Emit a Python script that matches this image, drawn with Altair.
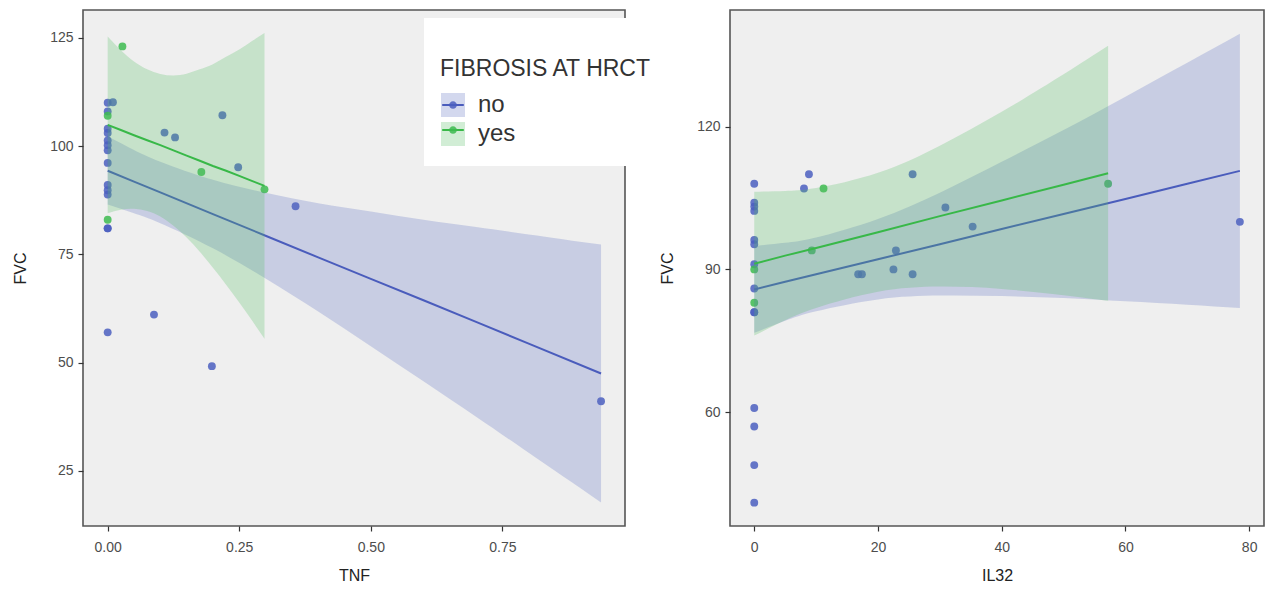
import altair as alt
import pandas as pd

# ---------------- data ----------------
LEGEND_TITLE = ["", "FIBROSIS AT HRCT"]
BLANK_TITLE = ["", " "]

# Left panel: TNF vs FVC, points
TNF_NO = [0, 0, 0, 0, 0, 0, 0, 0, 0, 0, 0, 0, 0, 0,
          0.01, 0.088, 0.108, 0.128, 0.198, 0.218, 0.248, 0.357, 0.9375]
FVC_TNF_NO = [110, 108, 104, 103, 101.3, 100.2, 99, 96.1, 91, 89.8, 88.8, 81, 81, 57,
              110.1, 61.1, 103.1, 102, 49.2, 107.1, 95.1, 86.1, 41.1]
TNF_YES = [0.028, 0, 0.178, 0.298, 0]
FVC_TNF_YES = [123, 107, 94, 90, 83]

# Left panel: fitted line and 95% band read at several TNF values
FIT_TNF_NO_X = [0, 0.05, 0.1, 0.2, 0.3, 0.4, 0.5, 0.6, 0.7, 0.8, 0.9375]
FIT_TNF_NO_Y = [94.3, 91.8, 89.3, 84.3, 79.3, 74.3, 69.35, 64.4, 59.4, 54.4, 47.5]
FIT_TNF_NO_LO = [86.5, 84.5, 82.2, 76.4, 69.4, 61.8, 53.8, 45.7, 37.5, 29.2, 17.75]
FIT_TNF_NO_HI = [102.2, 99.1, 96.4, 92.2, 89.2, 86.8, 84.9, 83.0, 81.3, 79.6, 77.25]

FIT_TNF_YES_X = [0, 0.025, 0.05, 0.075, 0.1, 0.125, 0.15, 0.175, 0.2, 0.225, 0.25, 0.275, 0.298]
FIT_TNF_YES_Y = [104.9, 103.7, 102.5, 101.35, 100.2, 99.0, 97.8, 96.6, 95.4, 94.3, 93.1, 91.9, 90.8]
FIT_TNF_YES_LO = [84.5, 85.3, 85.5, 85.0, 83.75, 81.6, 78.9, 75.6, 71.9, 68.0, 63.9, 59.6, 55.5]
FIT_TNF_YES_HI = [125.3, 122.1, 119.5, 117.7, 116.65, 116.3, 116.7, 117.7, 118.9, 120.6, 122.3, 124.3, 126.1]

# Right panel: IL32 vs FVC, points
IL32_NO = [0, 0, 0, 0, 0, 0, 0, 0, 0, 0, 0, 0, 0, 0,
           8.04, 8.84, 25.6, 16.8, 17.4, 22.5, 22.9, 25.6, 30.9, 35.3, 78.5]
FVC_IL32_NO = [108, 104, 103.2, 102.3, 96.2, 95.3, 91.1, 86, 81, 81, 60.9, 57, 48.9, 41,
               107, 110, 110, 89, 89, 90, 94, 89, 103, 99, 100]
IL32_YES = [0, 0, 11.2, 9.3, 57.2]
FVC_IL32_YES = [90, 83, 107, 94, 108]

# Right panel: fitted line and 95% band
FIT_IL32_NO_X = [0, 5, 10, 20, 30, 40, 50, 60, 70, 78.5]
FIT_IL32_NO_Y = [85.8, 87.4, 88.97, 92.14, 95.3, 98.5, 101.65, 104.8, 108.0, 110.7]
FIT_IL32_NO_LO = [76.7, 79.2, 81.2, 83.7, 84.5, 84.4, 84.0, 83.3, 82.6, 81.9]
FIT_IL32_NO_HI = [94.9, 95.6, 96.7, 100.6, 106.1, 112.6, 119.3, 126.3, 133.4, 139.5]

FIT_IL32_YES_X = [0, 5, 10, 20, 30, 40, 50, 57.2]
FIT_IL32_YES_Y = [91.2, 92.9, 94.5, 97.8, 101.2, 104.5, 107.8, 110.2]
FIT_IL32_YES_LO = [76.1, 79.3, 81.9, 85.3, 86.4, 85.9, 84.6, 83.4]
FIT_IL32_YES_HI = [106.3, 106.5, 107.1, 110.3, 116.0, 123.1, 131.0, 137.0]

# ---------------- styling ----------------
POINT_COLORS = ["#4b5fc0", "#3dbb50"]
LINE_COLORS = ["#4a5cbc", "#38b848"]
BAND_COLORS = ["#5a6cc0", "#50be5f"]
BAND_OPACITY = 0.26
FONT = "Liberation Sans"

# legend position relative to the left plot area's top-left corner
LEG_X, LEG_Y = 341, 8
DOT_PATH = "M-0.32,0A0.32,0.32,0,1,1,0.32,0A0.32,0.32,0,1,1,-0.32,0Z"

leg_box = alt.Legend(orient="none", legendX=LEG_X, legendY=LEG_Y, symbolType="square",
                     symbolOpacity=BAND_OPACITY, fillColor="white", zindex=1,
                     symbolStrokeColor="transparent")
leg_line = alt.Legend(orient="none", legendX=LEG_X, legendY=LEG_Y, symbolType="M-0.9,0H0.9",
                      labelExpr="' '", zindex=2)
leg_dot = alt.Legend(orient="none", legendX=LEG_X, legendY=LEG_Y, symbolType=DOT_PATH,
                     labelExpr="' '", zindex=3, symbolStrokeColor="transparent")


def make_points(xs_no, ys_no, xs_yes, ys_yes, xname):
    g = ["no"] * len(xs_no) + ["yes"] * len(xs_yes)
    return pd.DataFrame({xname: xs_no + xs_yes, "FVC": ys_no + ys_yes, "g_pt": g})


def make_fit(x, y, lo, hi, group, xname):
    g = [group] * len(x)
    return pd.DataFrame({xname: x, "fit": y, "lo": lo, "hi": hi, "g_bd": g, "g_ln": g})


def panel(pts, fit_no, fit_yes, xname, xdomain, xticks, xfmt, ydomain, yticks, w, h):
    xenc = alt.X(f"{xname}:Q", title=xname,
                 scale=alt.Scale(domain=xdomain, nice=False, zero=False),
                 axis=alt.Axis(values=xticks, format=xfmt))
    yscale = alt.Scale(domain=ydomain, nice=False, zero=False)
    yaxis = alt.Axis(values=yticks, format="d")

    points = alt.Chart(pts).mark_circle(size=62, opacity=0.85).encode(
        x=xenc,
        y=alt.Y("FVC:Q", title="FVC", scale=yscale, axis=yaxis),
        fill=alt.Fill("g_pt:N", title=BLANK_TITLE,
                      scale=alt.Scale(range=POINT_COLORS), legend=leg_dot),
    )

    def band(df):
        return alt.Chart(df).mark_area(opacity=BAND_OPACITY, interpolate="natural").encode(
            x=xenc,
            y=alt.Y("lo:Q", title="FVC", scale=yscale, axis=yaxis),
            y2=alt.Y2("hi:Q"),
            color=alt.Color("g_bd:N", title=LEGEND_TITLE,
                            scale=alt.Scale(range=BAND_COLORS), legend=leg_box),
        )

    def line(df):
        return alt.Chart(df).mark_line(strokeWidth=2).encode(
            x=xenc,
            y=alt.Y("fit:Q", title="FVC", scale=yscale, axis=yaxis),
            stroke=alt.Stroke("g_ln:N", title=BLANK_TITLE,
                              scale=alt.Scale(range=LINE_COLORS), legend=leg_line),
        )

    return alt.layer(points, band(fit_no), line(fit_no), band(fit_yes), line(fit_yes)).properties(
        width=w, height=h)


left = panel(
    make_points(TNF_NO, FVC_TNF_NO, TNF_YES, FVC_TNF_YES, "TNF"),
    make_fit(FIT_TNF_NO_X, FIT_TNF_NO_Y, FIT_TNF_NO_LO, FIT_TNF_NO_HI, "no", "TNF"),
    make_fit(FIT_TNF_YES_X, FIT_TNF_YES_Y, FIT_TNF_YES_LO, FIT_TNF_YES_HI, "yes", "TNF"),
    "TNF", [-0.0469, 0.983], [0, 0.25, 0.5, 0.75], ".2f",
    [12.3, 131.4], [25, 50, 75, 100, 125], 542, 516,
)

right = panel(
    make_points(IL32_NO, FVC_IL32_NO, IL32_YES, FVC_IL32_YES, "IL32"),
    make_fit(FIT_IL32_NO_X, FIT_IL32_NO_Y, FIT_IL32_NO_LO, FIT_IL32_NO_HI, "no", "IL32"),
    make_fit(FIT_IL32_YES_X, FIT_IL32_YES_Y, FIT_IL32_YES_LO, FIT_IL32_YES_HI, "yes", "IL32"),
    "IL32", [-3.92, 82.4], [0, 20, 40, 60, 80], "d",
    [36.1, 144.5], [60, 90, 120], 534, 516,
)

chart = alt.hconcat(left, right, spacing=32).properties(
    padding={"left": 11, "top": 9, "right": 0, "bottom": 0},
    background="white",
).configure_view(
    fill="#efefef", stroke="#555555", strokeWidth=1.6,
).configure_axis(
    domain=False, grid=False, tickColor="#333333", tickSize=5, tickWidth=1.2,
    labelFont=FONT, labelFontSize=14, labelColor="#4d4d4d",
    titleFont=FONT, titleFontSize=16, titleFontWeight="normal", titleColor="#222222",
).configure_axisX(
    labelPadding=9, titlePadding=13,
).configure_axisY(
    labelPadding=5, titlePadding=21,
).configure_legend(
    titleFont=FONT, titleFontSize=23, titleFontWeight="normal", titleColor="#333333",
    titleLineHeight=24, titlePadding=11, titleLimit=500,
    labelFont=FONT, labelFontSize=24, labelColor="#333333", labelLimit=200, labelOffset=12,
    padding=16, rowPadding=-11, symbolSize=576, symbolStrokeWidth=2,
)

chart.save("out.html", embed_options={"renderer": "svg", "actions": False})
